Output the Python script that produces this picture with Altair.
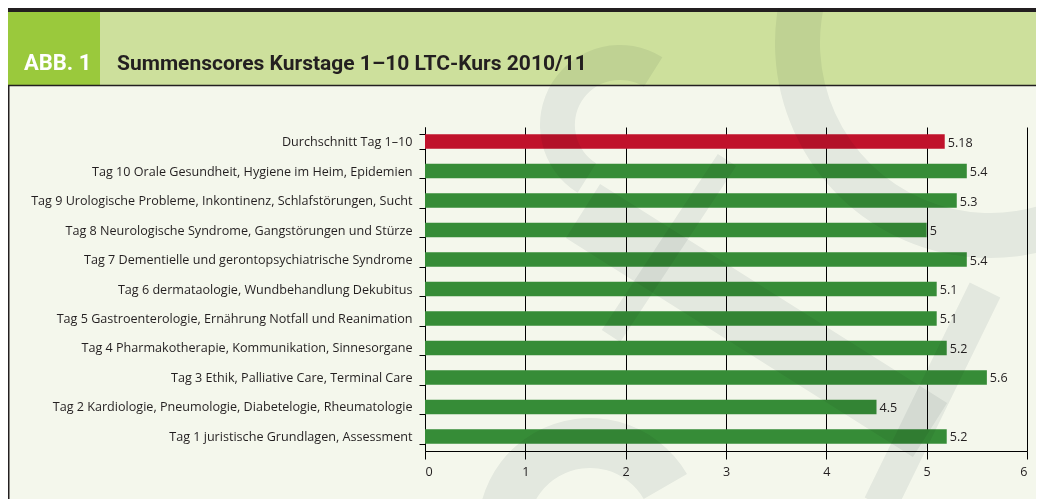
import math
import altair as alt
import pandas as pd

categories = [
    "Durchschnitt Tag 1–10",
    "Tag 10 Orale Gesundheit, Hygiene im Heim, Epidemien",
    "Tag 9 Urologische Probleme, Inkontinenz, Schlafstörungen, Sucht",
    "Tag 8 Neurologische Syndrome, Gangstörungen und Stürze",
    "Tag 7 Dementielle und gerontopsychiatrische Syndrome",
    "Tag 6 dermataologie, Wundbehandlung Dekubitus",
    "Tag 5 Gastroenterologie, Ernährung Notfall und Reanimation",
    "Tag 4 Pharmakotherapie, Kommunikation, Sinnesorgane",
    "Tag 3 Ethik, Palliative Care, Terminal Care",
    "Tag 2 Kardiologie, Pneumologie, Diabetelogie, Rheumatologie",
    "Tag 1 juristische Grundlagen, Assessment",
]
values = [5.18, 5.4, 5.3, 5.0, 5.4, 5.1, 5.1, 5.2, 5.6, 4.5, 5.2]
labels = ["5.18", "5.4", "5.3", "5", "5.4", "5.1", "5.1", "5.2", "5.6", "4.5", "5.2"]
groups = ["avg"] + ["day"] * 10

df = pd.DataFrame({"cat": categories, "val": values, "lab": labels, "grp": groups})

FONT = "Open Sans"
HFONT = "Roboto"
FS = 12.6

PAD_L, PAD_T, PAD_B = 417, 119, 48
W, H = 602, 324
TOTAL_W = 1028
PAD_R = TOTAL_W - PAD_L - W
# page offset of the plot origin (8px body margin)
OX, OY = PAD_L + 8, PAD_T + 8

ycat = alt.Y("cat:N", sort=categories, title=None,
             scale=alt.Scale(paddingInner=0.51, paddingOuter=0.25),
             axis=alt.Axis(labelFont=FONT, labelFontSize=FS, labelColor="#231f20",
                           labelLimit=420, tickBand="extent", tickSize=6, tickColor="#000",
                           domainColor="#000", labelPadding=7, grid=False))

xq = alt.X("val:Q", title=None,
           scale=alt.Scale(domain=[0, 6], nice=False),
           axis=alt.Axis(values=[0, 1, 2, 3, 4, 5, 6], format="d", grid=True, gridColor="#000",
                         gridOpacity=1, gridWidth=1, tickSize=8, tickColor="#000",
                         domainColor="#000", labelFont=FONT, labelFontSize=FS,
                         labelColor="#231f20", labelPadding=6))

base = alt.Chart(df)

bars = base.mark_bar().encode(
    x=xq, y=ycat,
    color=alt.Color("grp:N", scale=alt.Scale(domain=["avg", "day"], range=["#c0122b", "#368c37"]),
                    legend=None),
)

texts = base.mark_text(align="left", baseline="middle", dx=3, dy=1, font=FONT, fontSize=FS,
                       color="#231f20").encode(
    x="val:Q", y=alt.Y("cat:N", sort=categories), text="lab:N"
)

one = alt.Data(values=[{"a": 1}])

top_bar = alt.Chart(one).mark_rect(color="#231f20").encode(
    x=alt.value(-PAD_L), x2=alt.value(TOTAL_W - PAD_L), y=alt.value(-119), y2=alt.value(-115))
band = alt.Chart(one).mark_rect(color="#cde09c").encode(
    x=alt.value(-PAD_L), x2=alt.value(TOTAL_W - PAD_L), y=alt.value(-115), y2=alt.value(-42))
box = alt.Chart(one).mark_rect(color="#9ac93c").encode(
    x=alt.value(-PAD_L), x2=alt.value(-325), y=alt.value(-115), y2=alt.value(-42))
line = alt.Chart(one).mark_rule(color="#231f20", strokeWidth=1.5).encode(
    x=alt.value(-PAD_L), x2=alt.value(TOTAL_W - PAD_L), y=alt.value(-41.5))
leftb = alt.Chart(one).mark_rule(color="#231f20", strokeWidth=1.5).encode(
    x=alt.value(-PAD_L + 0.75), y=alt.value(-42), y2=alt.value(H + PAD_B))
abb = alt.Chart(one).mark_text(text="ABB. 1", align="left", baseline="alphabetic", font=HFONT,
                               fontSize=22, fontWeight="bold", color="#ffffff").encode(
    x=alt.value(-401), y=alt.value(-57))
title = alt.Chart(one).mark_text(text="Summenscores Kurstage 1–10 LTC-Kurs 2010/11", align="left",
                                 baseline="alphabetic", font=HFONT, fontSize=21, fontWeight="bold",
                                 color="#231f20").encode(
    x=alt.value(-308), y=alt.value(-57))

# faint background logo (decoration), given in page coordinates
WM = "#eef0f1"


def ring(cx, cy, r1, r2, t1, t2):
    return alt.Chart(one).mark_arc(color=WM, blend="multiply").encode(
        x=alt.value(cx - OX), y=alt.value(cy - OY),
        radius=alt.value(r2), radius2=alt.value(r1),
        theta=alt.value(math.radians(t1)), theta2=alt.value(math.radians(t2)))


def stroke(x1, y1, x2, y2, w):
    return alt.Chart(one).mark_rule(color=WM, strokeWidth=w, strokeCap="butt",
                                    blend="multiply").encode(
        x=alt.value(x1 - OX), y=alt.value(y1 - OY),
        x2=alt.value(x2 - OX), y2=alt.value(y2 - OY))


wm = [
    ring(990, 43, 170, 215, 150, 320),
    ring(620, 125, 45, 80, 212, 392),
    stroke(583, 211, 930, 430, 64),
    stroke(727, 160, 611, 336, 22),
    stroke(985, 290, 880, 505, 34),
    ring(590, 530, 62, 112, 240, 420),
]

chart = alt.layer(top_bar, band, box, line, leftb, bars, texts, abb, title, *wm).properties(
    width=W, height=H,
    autosize=alt.AutoSizeParams(type="none"),
    padding={"left": PAD_L, "top": PAD_T, "right": PAD_R, "bottom": PAD_B},
).configure(background="#f4f7ec").configure_view(stroke=None)

chart.save("out.html", embed_options={"renderer": "svg", "actions": False})
